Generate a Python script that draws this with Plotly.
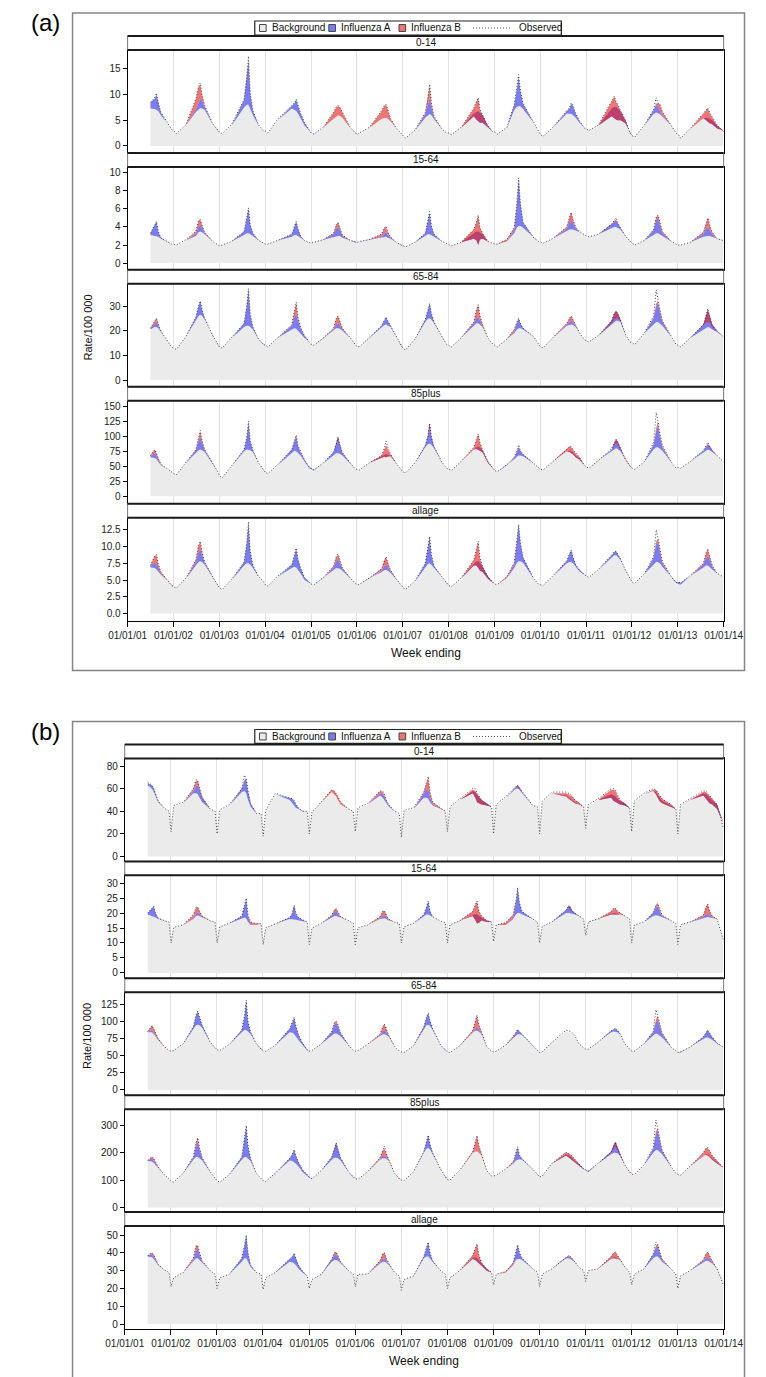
import plotly.graph_objects as go

# ---------------- data ----------------
DATES = [
    "2001-07-02", "2001-08-05", "2001-08-19", "2001-09-02", "2001-09-23", "2001-11-10", "2001-12-18",
    "2002-01-03", "2002-01-24", "2002-04-10", "2002-06-29", "2002-07-20", "2002-08-03", "2002-08-17", "2002-09-07", "2002-11-10", "2002-12-18",
    "2003-01-03", "2003-01-24", "2003-04-10", "2003-07-18", "2003-08-08", "2003-08-22", "2003-09-05", "2003-09-26", "2003-11-10", "2003-12-18",
    "2004-01-03", "2004-01-24", "2004-04-10", "2004-08-01", "2004-08-22", "2004-09-05", "2004-09-19", "2004-10-10", "2004-11-10", "2004-12-18",
    "2005-01-03", "2005-01-24", "2005-04-10", "2005-06-30", "2005-07-21", "2005-08-04", "2005-08-18", "2005-09-08", "2005-11-10", "2005-12-18",
    "2006-01-03", "2006-01-24", "2006-04-10", "2006-07-18", "2006-08-08", "2006-08-22", "2006-09-05", "2006-09-26", "2006-11-10", "2006-12-18",
    "2007-01-03", "2007-01-24", "2007-04-10", "2007-06-30", "2007-07-21", "2007-08-04", "2007-08-18", "2007-09-08", "2007-11-10", "2007-12-18",
    "2008-01-03", "2008-01-24", "2008-04-10", "2008-07-21", "2008-08-11", "2008-08-25", "2008-09-08", "2008-09-29", "2008-11-10", "2008-12-18",
    "2009-01-03", "2009-01-24", "2009-04-10", "2009-06-08", "2009-06-29", "2009-07-13", "2009-07-27", "2009-08-17", "2009-11-10", "2009-12-18",
    "2010-01-03", "2010-01-24", "2010-04-10", "2010-08-01", "2010-08-22", "2010-09-05", "2010-09-19", "2010-10-10", "2010-11-10", "2010-12-18",
    "2011-01-03", "2011-01-24", "2011-04-10", "2011-07-24", "2011-08-14", "2011-08-28", "2011-09-11", "2011-10-02", "2011-11-10", "2011-12-18",
    "2012-01-03", "2012-01-24", "2012-04-10", "2012-06-22", "2012-07-13", "2012-07-27", "2012-08-10", "2012-08-31", "2012-11-10", "2012-12-18",
    "2013-01-03", "2013-01-24", "2013-04-10", "2013-07-24", "2013-08-14", "2013-08-28", "2013-09-11", "2013-10-02", "2013-11-10", "2013-12-30",
]

X_TICKS = ["2001-01-01", "2002-01-01", "2003-01-01", "2004-01-01", "2005-01-01", "2006-01-01", "2007-01-01",
           "2008-01-01", "2009-01-01", "2010-01-01", "2011-01-01", "2012-01-01", "2013-01-01", "2014-01-01"]

AGE_GROUPS = ["0-14", "15-64", "65-84", "85plus", "allage"]
LEGEND_LABELS = ["Background", "Influenza A", "Influenza B", "Observed"]

# ----- panel (a) 0-14 -----
a014_bg = [
    7.3, 7.2, 7.0, 6.8, 6.0, 4.5, 3.3,
    2.9, 2.5, 4.0, 6.6, 7.2, 7.4, 7.3, 7.0, 4.3, 3.0,
    2.6, 2.3, 4.0, 7.5, 8.0, 8.0, 7.2, 6.0, 4.0, 3.0,
    2.8, 2.5, 5.0, 7.3, 7.0, 6.8, 6.3, 5.3, 4.0, 3.0,
    2.5, 2.4, 3.6, 5.3, 5.8, 6.0, 5.9, 5.5, 3.5, 2.6,
    2.3, 2.5, 3.5, 5.3, 5.5, 5.5, 5.3, 4.8, 3.5, 2.4,
    2.0, 1.6, 3.0, 5.5, 6.0, 6.2, 6.0, 5.2, 3.3, 2.5,
    2.5, 2.3, 3.5, 6.3, 6.6, 6.7, 6.5, 6.0, 4.0, 2.8,
    2.6, 2.3, 3.5, 7.0, 7.6, 7.8, 7.7, 7.2, 4.5, 2.8,
    2.2, 2.0, 3.5, 6.3, 6.3, 6.2, 6.0, 5.5, 4.5, 3.5,
    3.3, 3.1, 4.0, 7.3, 7.6, 7.6, 7.3, 6.8, 5.0, 2.5,
    2.0, 1.8, 4.0, 6.2, 6.5, 6.4, 6.2, 5.7, 4.0, 2.5,
    2.3, 1.6, 3.3, 5.4, 5.5, 5.5, 5.3, 5.0, 4.0, 3.0,
]
a014_fa = [
    1.2, 2.0, 3.0, 1.8, 0.5, 0, 0,
    0, 0, 0, 0.5, 1.3, 1.8, 1.6, 0.6, 0, 0,
    0, 0, 0, 1.5, 5.0, 8.8, 3.0, 0.8, 0, 0,
    0, 0, 0, 0.5, 1.3, 2.2, 1.5, 1.0, 0.5, 0,
    0, 0, 0, 0, 0, 0, 0, 0, 0, 0,
    0, 0, 0, 0, 0, 0, 0, 0, 0, 0,
    0, 0, 0, 0.6, 2.0, 3.2, 1.5, 0.3, 0, 0,
    0, 0, 0, -0.5, -1.5, -2.0, -2.0, -1.5, -0.5, 0,
    0, 0, 0, 1.0, 3.5, 5.8, 3.0, 1.0, 0, 0,
    0, 0, 0, 0.5, 1.0, 2.0, 1.8, 0.8, 0.3, 0,
    0, 0, 0, -1.5, -2.2, -2.5, -2.3, -1.8, -0.6, 0,
    0, 0, 0, 0.8, 1.5, 1.2, 0.7, 0.2, 0, 0,
    0, 0, 0, 0, -0.5, -0.8, -0.9, -0.8, -0.6, 0,
]
a014_fb = [
    0, 0, 0, 0, 0, 0, 0,
    0, 0, 0, 2.0, 3.0, 2.7, 1.0, 0.2, 0, 0,
    0, 0, 0, 0, 0, 0, 0, 0, 0, 0,
    0, 0, 0, 0, 0, 0, 0, 0, 0, 0,
    0, 0, 0, 1.2, 1.7, 1.8, 1.7, 1.0, 0, 0,
    0, 0, 0, 1.5, 2.3, 2.5, 1.6, 0.5, 0, 0,
    0, 0, 0, 0.3, 1.2, 2.4, 0.8, 0.2, 0, 0,
    0, 0, 0, 1.5, 3.5, 4.6, 2.5, 1.5, 0.3, 0,
    0, 0, 0, 0, 0, 0, 0, 0, 0, 0,
    0, 0, 0, 0, 0, 0, 0, 0, 0, 0,
    0, 0, 0, 3.0, 4.2, 3.4, 3.0, 1.8, 0.6, 0,
    0, 0, 0, 0, 0.3, 0.6, 1.2, 0.7, 0, 0,
    0, 0, 0, 1.0, 2.0, 2.6, 2.0, 1.3, 0.6, 0,
]
a014_obs = [
    8.5, 9.4, 10.3, 8.4, 6.6, 4.6, 3.2,
    3.0, 2.4, 4.1, 9.2, 11.6, 12.3, 9.9, 7.9, 4.3, 3.1,
    2.7, 2.4, 4.2, 9.1, 13.2, 17.5, 10.3, 6.9, 4.1, 3.0,
    2.9, 2.5, 5.2, 7.9, 8.4, 9.1, 7.9, 6.4, 4.6, 3.1,
    2.5, 2.3, 3.7, 6.6, 7.6, 7.9, 7.5, 6.6, 3.6, 2.6,
    2.2, 2.6, 3.6, 6.9, 7.9, 8.1, 6.9, 5.4, 3.5, 2.4,
    2.0, 1.5, 3.1, 6.5, 9.3, 12.0, 8.4, 5.8, 3.3, 2.5,
    2.5, 2.2, 3.6, 7.4, 8.7, 9.4, 7.1, 6.0, 3.9, 2.8,
    2.7, 2.3, 3.6, 8.1, 11.2, 13.9, 10.8, 8.3, 4.6, 2.8,
    2.2, 1.9, 3.6, 6.9, 7.4, 8.4, 7.9, 6.4, 4.9, 3.5,
    3.3, 3.0, 4.1, 8.9, 9.7, 8.6, 8.1, 6.9, 5.1, 2.5,
    2.0, 1.7, 4.1, 7.1, 9.4, 8.3, 8.2, 6.7, 4.1, 2.5,
    2.3, 1.5, 3.4, 6.5, 7.1, 7.4, 6.5, 5.6, 4.1, 2.8,
]

# ----- panel (a) 15-64 -----
a1564_bg = [
    3.1, 3.0, 3.0, 2.9, 2.7, 2.4, 2.1,
    2.1, 2.0, 2.5, 3.0, 3.4, 3.5, 3.4, 3.2, 2.4, 2.0,
    1.9, 2.0, 2.4, 3.1, 3.3, 3.3, 3.2, 3.0, 2.5, 2.2,
    2.1, 2.1, 2.5, 2.9, 3.1, 3.1, 3.0, 2.8, 2.5, 2.3,
    2.2, 2.3, 2.6, 2.9, 3.0, 3.0, 3.0, 2.8, 2.5, 2.3,
    2.3, 2.4, 2.6, 2.8, 2.9, 2.9, 2.8, 2.7, 2.3, 2.0,
    1.9, 1.8, 2.3, 3.0, 3.2, 3.2, 3.1, 2.9, 2.4, 2.1,
    2.0, 1.9, 2.3, 3.3, 3.5, 3.5, 3.4, 3.2, 2.4, 2.2,
    2.1, 2.1, 2.4, 3.3, 3.9, 4.1, 4.1, 3.9, 2.8, 2.4,
    2.3, 2.2, 2.7, 3.5, 3.7, 3.7, 3.7, 3.6, 3.4, 3.1,
    3.0, 2.9, 3.2, 3.9, 4.0, 4.0, 3.9, 3.7, 3.0, 2.4,
    2.2, 2.0, 2.5, 3.1, 3.3, 3.3, 3.2, 3.0, 2.4, 2.1,
    2.0, 2.0, 2.3, 2.9, 3.0, 3.0, 3.0, 2.9, 2.7, 2.5,
]
a1564_fa = [
    0.2, 1.2, 1.6, 0.6, 0.1, 0, 0,
    0, 0, 0, 0.2, 0.6, 0.8, 0.5, 0.1, 0, 0,
    0, 0, 0, 0.4, 1.6, 2.7, 1.0, 0.3, 0, 0,
    0, 0, 0, 0.3, 1.0, 1.5, 0.8, 0.2, 0, 0,
    0, 0, 0, 0.3, 0.8, 1.0, 0.7, 0.2, 0, 0,
    0, 0, 0, 0.1, 0.4, 0.5, 0.3, 0.1, 0, 0,
    0, 0, 0, 0.3, 1.5, 2.4, 1.0, 0.3, 0, 0,
    0, 0, 0, -0.6, -1.0, -1.5, -0.8, -0.5, 0, 0,
    0, 0, 0, 0.3, 2.5, 5.2, 2.5, 0.6, 0, 0,
    0, 0, 0, 0.3, 0.8, 1.0, 0.7, 0.3, 0, 0,
    0, 0, 0, 0.4, 0.6, 0.7, 0.5, 0.2, 0, 0,
    0, 0, 0, 0.5, 1.5, 1.7, 1.0, 0.3, 0, 0,
    0, 0, 0, 0.3, 0.8, 1.0, 0.7, 0.3, 0, 0,
]
a1564_fb = [
    0, 0, 0, 0, 0, 0, 0,
    0, 0, 0, 0.3, 0.7, 0.5, 0.3, 0.1, 0, 0,
    0, 0, 0, 0, 0, 0, 0, 0, 0, 0,
    0, 0, 0, 0, 0, 0, 0, 0, 0, 0,
    0, 0, 0, 0.1, 0.4, 0.5, 0.3, 0.1, 0, 0,
    0, 0, 0, 0.3, 0.6, 0.6, 0.3, 0.1, 0, 0,
    0, 0, 0, 0, 0, 0, 0, 0, 0, 0,
    0, 0, 0, 1.0, 2.0, 3.3, 1.3, 0.6, 0, 0,
    0, 0, 0.2, 0.3, 0.3, 0.1, 0, 0, 0, 0,
    0, 0, 0, 0.2, 0.6, 0.9, 0.4, 0.1, 0, 0,
    0, 0, 0, 0, 0.1, 0.1, 0, 0, 0, 0,
    0, 0, 0, 0.1, 0.3, 0.3, 0.4, 0.2, 0, 0,
    0, 0, 0, 0.2, 0.7, 1.0, 0.5, 0.2, 0, 0,
]
a1564_obs = [
    3.3, 4.2, 4.6, 3.5, 2.8, 2.4, 2.1,
    2.1, 2.0, 2.6, 3.5, 4.7, 4.8, 4.2, 3.4, 2.4, 2.0,
    1.9, 2.0, 2.4, 3.5, 5.0, 6.1, 4.2, 3.3, 2.5, 2.2,
    2.1, 2.1, 2.5, 3.2, 4.1, 4.6, 3.8, 3.0, 2.5, 2.3,
    2.2, 2.3, 2.6, 3.3, 4.2, 4.5, 4.0, 3.1, 2.5, 2.3,
    2.3, 2.4, 2.6, 3.2, 3.9, 4.1, 3.4, 2.9, 2.3, 2.0,
    1.9, 1.8, 2.3, 3.3, 4.7, 5.7, 4.1, 3.2, 2.4, 2.1,
    2.0, 1.9, 2.3, 3.7, 4.5, 5.3, 3.9, 3.3, 2.4, 2.2,
    2.1, 2.1, 2.6, 3.9, 6.7, 9.4, 6.6, 4.5, 2.8, 2.4,
    2.3, 2.2, 2.7, 4.0, 5.1, 5.6, 4.8, 4.0, 3.5, 3.1,
    3.0, 2.9, 3.2, 4.3, 4.8, 5.0, 4.5, 3.9, 3.0, 2.4,
    2.2, 2.0, 2.5, 3.7, 5.1, 5.3, 4.6, 3.5, 2.4, 2.1,
    2.0, 2.0, 2.3, 3.4, 4.5, 5.0, 4.2, 3.4, 2.7, 2.5,
]

# ----- panel (a) 65-84 -----
a6584_bg = [
    20.6, 21.5, 21.5, 21.0, 19.5, 16.0, 13.5,
    13.0, 12.5, 17.5, 24.5, 26.0, 26.5, 26.0, 24.5, 18.0, 14.5,
    13.5, 13.0, 17.0, 21.5, 22.0, 22.0, 21.5, 20.5, 16.5, 14.5,
    14.0, 13.5, 17.0, 20.5, 21.0, 20.8, 20.0, 18.5, 17.0, 15.5,
    14.5, 14.0, 17.0, 20.0, 21.0, 21.0, 20.8, 20.0, 17.0, 14.5,
    13.5, 13.5, 17.0, 21.5, 22.3, 22.5, 22.2, 21.5, 17.5, 14.0,
    13.0, 12.3, 16.5, 23.5, 24.8, 25.0, 24.5, 23.0, 17.5, 14.5,
    14.0, 13.5, 17.0, 22.0, 23.0, 23.0, 22.5, 21.5, 17.0, 14.5,
    14.0, 13.5, 16.5, 19.0, 20.5, 21.0, 21.0, 20.5, 17.5, 14.5,
    13.5, 13.0, 17.0, 22.0, 22.5, 22.5, 22.3, 21.5, 19.0, 16.5,
    16.0, 15.5, 18.0, 22.5, 23.5, 24.0, 24.0, 23.5, 18.5, 15.5,
    15.0, 14.5, 19.0, 22.5, 23.5, 23.5, 23.0, 22.0, 17.5, 14.5,
    14.0, 13.5, 17.0, 20.5, 21.3, 21.5, 21.3, 20.5, 19.5, 17.5,
]
a6584_fa = [
    0.3, 1.5, 2.0, 1.0, 0.2, 0, 0,
    0, 0, 0, 1.0, 4.0, 5.5, 2.5, 0.5, 0, 0,
    0, 0, 0, 1.5, 8.0, 15.0, 5.0, 1.0, 0, 0,
    0, 0, 0, 1.5, 4.5, 6.0, 4.0, 2.5, 1.0, 0,
    0, 0, 0, 0.5, 1.5, 2.0, 1.5, 0.5, 0, 0,
    0, 0, 0, 0.5, 2.0, 3.0, 1.8, 0.5, 0, 0,
    0, 0, 0, 1.0, 3.5, 6.0, 2.5, 0.5, 0, 0,
    0, 0, 0, 1.0, 2.0, 2.5, 1.5, 0.5, 0, 0,
    0, 0, 0, 0.5, 2.5, 4.0, 2.0, 0.5, 0, 0,
    0, 0, 0, 0.5, 1.0, 1.5, 1.0, 0.5, 0, 0,
    0, 0, 0, 1.5, 3.5, 4.0, 3.0, 1.0, 0, 0,
    0, 0, 0, 2.5, 6.5, 7.5, 4.5, 1.5, 0, 0,
    0, 0, 0, 2.0, 5.0, 7.0, 5.0, 2.0, 0.5, 0,
]
a6584_fb = [
    0.2, 1.0, 1.5, 0.8, 0.2, 0, 0,
    0, 0, 0, 0, 0, 0, 0, 0, 0, 0,
    0, 0, 0, 0, 0, 0, 0, 0, 0, 0,
    0, 0, 0, 0.3, 2.5, 4.5, 1.5, 0.3, 0, 0,
    0, 0, 0, 0.5, 2.5, 3.0, 2.0, 0.5, 0, 0,
    0, 0, 0, 0, 0, 0, 0, 0, 0, 0,
    0, 0, 0, 0, 0, 0, 0, 0, 0, 0,
    0, 0, 0, 0.5, 3.5, 5.0, 2.0, 0.5, 0, 0,
    0, 0, 0, 1.0, 0.5, 0, 0, 0, 0, 0,
    0, 0, 0, 0.5, 1.5, 2.0, 1.2, 0.5, 0, 0,
    0, 0, 0, -1.0, -2.5, -3.0, -2.0, -0.5, 0, 0,
    0, 0, 0, 0.5, 1.0, 1.0, 1.5, 0.5, 0, 0,
    0, 0, 0, -0.5, -3.0, -5.0, -3.0, -1.0, 0, 0,
]
a6584_obs = [
    21.0, 24.0, 25.0, 22.8, 19.9, 16.2, 13.4,
    13.0, 12.4, 17.6, 25.5, 30.0, 32.0, 28.5, 25.0, 18.1, 14.6,
    13.4, 12.9, 17.2, 23.0, 30.0, 37.0, 27.0, 21.5, 16.6, 14.4,
    14.1, 13.4, 17.1, 22.5, 28.0, 31.5, 25.5, 21.5, 18.0, 15.5,
    14.4, 14.1, 17.1, 21.0, 25.0, 26.0, 24.3, 21.0, 17.1, 14.6,
    13.4, 13.6, 17.1, 22.0, 24.3, 25.5, 24.0, 22.0, 17.6, 13.9,
    12.9, 12.2, 16.6, 24.5, 28.3, 31.0, 27.0, 23.5, 17.6, 14.4,
    14.1, 13.4, 17.1, 23.5, 28.5, 30.5, 26.0, 22.5, 17.1, 14.6,
    14.1, 13.4, 16.6, 20.5, 23.5, 25.0, 23.0, 21.0, 17.6, 14.4,
    13.4, 13.1, 17.1, 23.0, 25.0, 26.0, 24.5, 22.5, 19.1, 16.4,
    16.1, 15.4, 18.1, 24.0, 27.0, 28.0, 27.0, 24.5, 18.6, 15.4,
    15.1, 14.4, 19.1, 26.0, 36.5, 32.0, 29.0, 24.0, 17.6, 14.4,
    14.1, 13.4, 17.1, 22.5, 26.0, 29.0, 26.0, 22.0, 20.0, 17.5,
]

# ----- panel (a) 85plus -----
a85_bg = [
    65, 64, 62, 58, 52, 45, 40,
    38, 36, 55, 72, 77, 78, 77, 74, 55, 42,
    34, 31, 50, 75, 78, 78, 77, 74, 55, 45,
    40, 38, 52, 73, 76, 75, 72, 68, 58, 47,
    45, 43, 55, 69, 72, 72, 71, 68, 55, 46,
    45, 44, 56, 66, 69, 70, 69.5, 68, 55, 44,
    41, 39, 55, 82, 87, 88, 86, 80, 57, 47,
    45, 43, 58, 78, 82, 83, 81, 76, 58, 47,
    43, 41, 52, 62, 66, 68, 68, 67, 55, 47,
    45, 44, 58, 75, 76, 75, 73, 68, 63, 52,
    49, 47, 60, 75, 79, 80, 79, 75, 62, 50,
    47, 45, 58, 78, 82, 82, 80, 76, 57, 47,
    48, 47, 58, 74, 77, 78, 77, 74, 68, 58,
]
a85_fa = [
    2, 8, 5, 2, 0.5, 0, 0,
    0, 0, 0, 5, 15, 22, 12, 3, 0, 0,
    0, 0, 0, 3, 20, 45, 15, 3, 0, 0,
    0, 0, 0, 5, 15, 25, 12, 5, 3, 2,
    2, 1, 0, 5, 17, 27, 16, 5, 0, 0,
    0, 0, 0, -1, -3, -5, -3, -1, 0, 0,
    0, 0, 0, 3, 14, 34, 14, 3, 0, 0,
    0, 0, 0, 0, -3, -5, -5, -3, -2, 0,
    0, 0, 0, 2, 8, 14, 8, 3, 0, 0,
    0, 0, 0, 0, -2, -3, -3, -3, -2, 0,
    0, 0, 0, 3, 10, 15, 12, 5, 0, 0,
    0, 0, 0, 8, 28, 36, 20, 6, 0, 0,
    0, 0, 0, 2, 6, 9, 7, 3, 0, 0,
]
a85_fb = [
    1, 6, 5, 3, 1, 0, 0,
    0, 0, 0, 1, 5, 8, 4, 1, 0, 0,
    0, 0, 0, 0, 0, 0, 0, 0, 0, 0,
    0, 0, 0, 0.5, 1, 2, 1, 0.5, 0, 0,
    0, 0, 0, 0, -2, -4, -2, 0, 0, 0,
    0, 0, 0, 3, 12, 20, 12, 3, 0, 0,
    0, 0, 0, 0, -2, -6, -2, 0, 0, 0,
    0, 0, 0, 3, 15, 26, 13, 4, 2, 0,
    0, 0, 0, 1, 1, -2, 0, 0, 0, 0,
    0, 0, 0, 3, 9, 10, 8, 6, 4, 0,
    0, 0, 0, 0, -4, -6, -5, -2, 0, 0,
    0, 0, 0, 1, 4, 7, 5, 2, 0, 0,
    0, 0, 0, 0, -1, -2, -2, -1, 0, 0,
]
a85_obs = [
    68, 78, 72, 63, 54, 46, 40,
    38, 36, 56, 78, 97, 110, 93, 78, 55, 42,
    34, 31, 51, 78, 98, 125, 92, 77, 56, 45,
    40, 38, 53, 78, 92, 102, 85, 74, 61, 49,
    47, 44, 56, 74, 87, 99, 87, 73, 56, 46,
    45, 44, 56, 68, 80, 92, 82, 71, 55, 44,
    41, 39, 56, 85, 100, 122, 98, 83, 57, 47,
    45, 43, 58, 82, 96, 104, 90, 78, 58, 47,
    43, 41, 53, 65, 76, 86, 76, 70, 55, 47,
    45, 44, 58, 78, 84, 83, 78, 72, 65, 52,
    49, 47, 60, 80, 88, 95, 90, 80, 62, 50,
    47, 45, 58, 90, 140, 125, 106, 86, 57, 47,
    48, 47, 58, 77, 84, 90, 84, 76, 68, 58,
]

# ----- panel (a) allage -----
aall_bg = [
    6.9, 6.8, 6.6, 6.3, 5.8, 5.0, 4.2,
    4.0, 3.9, 5.2, 7.2, 7.7, 7.8, 7.7, 7.3, 5.5, 4.3,
    3.8, 3.6, 5.0, 7.2, 7.5, 7.5, 7.3, 6.8, 5.5, 4.8,
    4.3, 4.1, 5.5, 6.8, 7.0, 6.9, 6.6, 6.0, 5.0, 4.5,
    4.4, 4.3, 5.3, 6.5, 6.8, 6.8, 6.7, 6.4, 5.3, 4.5,
    4.3, 4.4, 5.3, 6.2, 6.5, 6.5, 6.4, 6.1, 5.2, 4.3,
    3.9, 3.6, 4.8, 7.0, 7.4, 7.5, 7.3, 6.8, 5.5, 4.5,
    4.2, 4.0, 5.2, 7.4, 7.8, 7.8, 7.6, 7.0, 5.6, 4.6,
    4.4, 4.3, 5.3, 6.8, 7.6, 7.8, 7.8, 7.6, 5.2, 4.4,
    4.3, 4.2, 5.5, 7.5, 7.7, 7.7, 7.5, 7.0, 6.3, 5.8,
    5.6, 5.4, 6.5, 8.4, 8.7, 8.7, 8.5, 8.0, 6.5, 5.2,
    4.7, 4.5, 5.9, 7.3, 7.7, 7.7, 7.5, 7.0, 5.5, 4.6,
    4.4, 4.3, 5.6, 6.9, 7.2, 7.2, 7.0, 6.6, 6.0, 5.5,
]
aall_fa = [
    0.3, 0.8, 0.8, 0.5, 0.2, 0, 0,
    0, 0, 0, 0.5, 1.5, 1.8, 1.0, 0.3, 0, 0,
    0, 0, 0, 0.5, 3.0, 6.0, 2.0, 0.4, 0, 0,
    0, 0, 0, 0.5, 1.8, 2.8, 1.6, 0.8, 0.4, 0.2,
    0, 0, 0, 0.4, 1.0, 1.3, 0.9, 0.3, 0, 0,
    0, 0, 0, 0.2, 0.6, 0.8, 0.5, 0.2, 0, 0,
    0, 0, 0, 0.5, 2.3, 4.0, 1.5, 0.3, 0, 0,
    0, 0, 0, -0.2, -0.6, -1.0, -1.2, -0.8, -0.4, 0,
    0, 0, 0, 0.5, 3.0, 5.5, 2.8, 0.8, 0, 0,
    0, 0, 0, 0.4, 1.2, 1.8, 1.0, 0.3, 0.2, 0,
    0, 0, 0, 0.3, 0.5, 0.6, 0.4, 0.2, 0, 0,
    0, 0, 0, 1.0, 2.7, 3.0, 1.7, 0.5, 0, 0,
    0.3, 0.3, 0, 0.4, 1.1, 1.4, 1.0, 0.4, 0, 0,
]
aall_fb = [
    0, 1.0, 1.4, 0.6, 0.2, 0, 0,
    0, 0, 0, 0.3, 1.0, 1.1, 0.5, 0.1, 0, 0,
    0, 0, 0, 0, 0, 0, 0, 0, 0, 0,
    0, 0, 0, 0, 0, 0, 0, 0, 0, 0,
    0, 0, 0, 0.2, 0.6, 0.7, 0.5, 0.1, 0, 0,
    0, 0, 0, 0.3, 0.9, 1.1, 0.6, 0.2, 0, 0,
    0, 0, 0, 0, 0, 0, 0, 0, 0, 0,
    0, 0, 0, 0.8, 2.3, 3.9, 1.8, 0.8, 0.3, 0,
    0, 0, 0.2, 0.3, 0.2, 0, 0, 0, 0, 0,
    0, 0, 0, 0, 0, 0, 0, 0, 0, 0,
    0, 0, 0, 0, 0, 0, 0, 0, 0, 0,
    0, 0, 0, 0.1, 0.4, 0.5, 0.5, 0.2, 0, 0,
    0, 0, 0, 0.2, 0.7, 1.0, 0.6, 0.2, 0, 0,
]
aall_obs = [
    7.2, 8.6, 8.8, 7.4, 6.2, 5.0, 4.2,
    4.0, 3.8, 5.3, 8.0, 10.2, 10.8, 9.2, 7.7, 5.5, 4.3,
    3.8, 3.6, 5.1, 7.7, 10.5, 13.7, 9.3, 7.2, 5.5, 4.8,
    4.3, 4.1, 5.6, 7.3, 8.8, 9.8, 8.2, 6.8, 5.4, 4.7,
    4.4, 4.3, 5.4, 7.1, 8.5, 8.9, 8.1, 6.8, 5.3, 4.5,
    4.3, 4.4, 5.3, 6.7, 8.0, 8.5, 7.5, 6.5, 5.2, 4.3,
    3.9, 3.6, 4.9, 7.5, 9.7, 11.5, 8.8, 7.1, 5.5, 4.5,
    4.2, 4.0, 5.3, 8.0, 9.6, 10.8, 8.3, 7.0, 5.5, 4.6,
    4.4, 4.3, 5.5, 7.6, 10.8, 13.3, 10.6, 8.4, 5.2, 4.4,
    4.3, 4.2, 5.6, 7.9, 8.9, 9.5, 8.5, 7.3, 6.5, 5.8,
    5.6, 5.4, 6.6, 8.8, 9.3, 9.3, 8.9, 8.2, 6.5, 5.2,
    4.7, 4.5, 6.0, 8.5, 12.5, 11.3, 9.8, 7.8, 5.5, 4.6,
    4.7, 4.6, 5.7, 7.5, 9.1, 9.7, 8.6, 7.2, 6.0, 5.5,
]

# ----- panel (b) 0-14 -----
b014_bg = [
    63, 60, 57, 53, 48, 43, 40,
    24, 44, 47, 56, 56, 55, 52, 48, 42, 40,
    22, 40, 45, 57, 58, 56, 50, 44, 38, 38,
    20, 40, 55, 50, 47, 45, 43, 42, 40, 40,
    22, 38, 48, 57, 55, 53, 50, 46, 42, 40,
    25, 42, 46, 54, 52, 50, 47, 44, 40, 38,
    20, 40, 42, 52, 52, 51, 48, 45, 42, 40,
    25, 43, 50, 58, 57, 55, 53, 50, 47, 44,
    22, 45, 52, 58, 60, 60, 59, 56, 45, 44,
    22, 48, 56, 54, 52, 51, 50, 48, 46, 44,
    28, 45, 50, 55, 54, 53, 51, 49, 47, 43,
    25, 48, 55, 58, 57, 55, 52, 49, 45, 42,
    22, 45, 50, 56, 55, 54, 52, 50, 46, 30,
]
b014_fa = [
    2, 3, 3, 2, 0.5, 0, 0,
    0, 0, 0, 2, 6, 8, 7, 4, 0, 0,
    0, 0, 0, 3, 9, 12, 8, 3, 0, 0,
    0, 0, 0, 2, 4, 4, 3, 1, 0.5, 0,
    0, 0, 0, 0, 0, 0, 0, 0, 0, 0,
    0, 0, 0, 2, 3, 3, 2, 1, 0, 0,
    0, 0, 0, 3, 7, 9, 4, 1, 0, 0,
    0, 0, 0, -2, -5, -7, -6, -4, -2, 0,
    0, 0, 0, 1, 2, 3, 2, 1, 0, 0,
    0, 0, 0, -1, -1, -1, -1, -1, 0, 0,
    0, 0, 0, -3, -5, -5, -4, -3, -2, 0,
    0, 0, 0, 0, -2, -3, -3, -2, -1, 0,
    0, 0, 0, -2, -4, -5, -5, -4, -4, 0,
]
b014_fb = [
    0, 0, 0.5, 1, 0.5, 0, 0,
    0, 0, 0, 2, 5, 4, 2, 1, 0, 0,
    0, 0, 0, 0.5, 1, 1, 0.5, 0, 0, 0,
    0, 0, 0, 0, 0, 0, 0, 0, 0, 0,
    0, 0, 0, 2, 3, 3, 3, 2, 0, 0,
    0, 0, 0, 2, 2, 1.5, 1, 0.5, 0, 0,
    0, 0, 0, 2, 6, 10, 5, 2, 1, 0,
    0, 0, 0, 3, 6, 7, 6, 4, 1.5, 0,
    0, 0, 0, 0, -1, -1.5, -1, 0, 0, 0,
    0, 0, 0, 3, 4, 4, 4, 3, 2, 0,
    0, 0, 0, 7, 10, 10, 7, 4, 2, 0,
    0, 0, 0, 1, 4, 5, 5, 4, 2, 0,
    0, 0, 0, 3, 6, 6, 6, 5, 4, 0,
]
b014_obs = [
    66, 63, 60, 56, 49, 43, 40,
    22, 45, 48, 60, 68, 67, 60, 52, 42, 40,
    20, 41, 46, 60, 72, 69, 58, 47, 38, 38,
    18, 41, 56, 52, 51, 50, 46, 43, 40, 40,
    20, 39, 49, 59, 58, 56, 53, 48, 42, 40,
    22, 43, 47, 58, 58, 55, 50, 46, 40, 38,
    17, 41, 43, 57, 65, 71, 57, 48, 43, 40,
    22, 44, 51, 60, 60, 56, 54, 50, 46, 44,
    20, 46, 53, 60, 62, 63, 61, 57, 45, 44,
    20, 49, 57, 57, 56, 55, 53, 50, 47, 44,
    25, 46, 51, 60, 60, 59, 55, 50, 46, 43,
    22, 49, 56, 60, 59, 57, 54, 51, 46, 42,
    20, 46, 51, 58, 58, 56, 54, 51, 46, 25,
]

# ----- panel (b) 15-64 -----
b1564_bg = [
    19.5, 19.0, 18.8, 18.5, 18.0, 17.5, 17.0,
    12.0, 15.0, 16.0, 18.0, 19.0, 19.2, 19.0, 18.5, 17.5, 17.0,
    12.0, 15.5, 16.5, 18.0, 18.5, 18.2, 17.0, 16.0, 16.0, 16.5,
    11.0, 15.0, 16.5, 18.0, 18.0, 18.0, 17.8, 17.5, 17.3, 17.0,
    11.0, 15.0, 16.5, 18.5, 19.0, 19.0, 18.8, 18.3, 17.5, 16.5,
    11.0, 15.0, 16.0, 18.0, 18.3, 18.3, 18.0, 17.5, 17.0, 16.5,
    12.0, 15.5, 16.5, 19.0, 19.5, 19.5, 19.2, 18.5, 17.3, 16.8,
    11.5, 16.0, 17.5, 19.5, 19.7, 19.5, 19.2, 18.5, 17.5, 17.0,
    12.0, 16.0, 16.0, 18.0, 19.5, 20.0, 20.0, 19.5, 18.0, 17.0,
    11.0, 15.5, 17.0, 20.0, 20.0, 20.0, 19.8, 19.5, 19.0, 18.0,
    14.0, 17.0, 18.0, 19.8, 20.0, 20.0, 19.8, 19.5, 19.0, 18.0,
    12.0, 16.0, 17.0, 19.0, 19.3, 19.2, 19.0, 18.5, 17.5, 16.5,
    11.0, 16.0, 17.0, 18.5, 18.7, 18.7, 18.5, 18.3, 18.0, 12.0,
]
b1564_fa = [
    0.5, 2.5, 3.5, 1.5, 0.3, 0, 0,
    0, 0, 0, 0.3, 0.8, 1.0, 0.8, 0.3, 0, 0,
    0, 0, 0, 1.0, 4.0, 6.5, 2.0, 0.3, 0, 0,
    0, 0, 0, 0.5, 2.0, 4.5, 2.0, 1.0, 0.5, 0,
    0, 0, 0, 0.5, 1.3, 1.5, 1.0, 0.3, 0, 0,
    0, 0, 0, 0.3, 0.8, 1.0, 0.6, 0.2, 0, 0,
    0, 0, 0, 0.5, 2.5, 4.5, 1.5, 0.3, 0, 0,
    0, 0, 0, -0.5, -2.0, -3.0, -2.5, -1.0, -0.5, 0,
    0, 0, 0, 0.5, 4.0, 8.5, 3.5, 1.0, 0, 0,
    0, 0, 0, 1.0, 2.5, 2.0, 1.0, 0.5, 0, 0,
    0, 0, 0, -0.3, -0.5, -0.5, -0.3, 0, 0, 0,
    0, 0, 0, 1.0, 2.8, 3.0, 1.8, 0.5, 0, 0,
    0, 0, 0, 0.3, 0.8, 1.0, 0.8, 0.3, 0, 0,
]
b1564_fb = [
    0, 0, 0, 0, 0, 0, 0,
    0, 0, 0, 1.0, 2.0, 1.8, 0.8, 0.2, 0, 0,
    0, 0, 0, 0, 0, 0, 0.3, 0.6, 0.5, 0,
    0, 0, 0, 0, 0, -0.5, 0, 0, 0, 0,
    0, 0, 0, 0.3, 0.8, 1.0, 0.6, 0.2, 0, 0,
    0, 0, 0, 0.5, 1.5, 1.5, 0.8, 0.2, 0, 0,
    0, 0, 0, 0, 0, 0, 0, 0, 0, 0,
    0, 0, 0, 1.5, 5.0, 7.5, 4.0, 1.5, 0.5, 0,
    0, 0, 0.8, 1.0, 0.5, 0, 0, 0, 0, 0,
    0, 0, 0, 0, -0.3, -0.5, -0.3, 0, 0, 0,
    0, 0, 0, 1.0, 2.0, 2.0, 1.2, 0.5, 0, 0,
    0, 0, 0, 0.2, 0.5, 1.0, 0.7, 0.3, 0, 0,
    0, 0, 0, 0.5, 2.5, 3.5, 1.5, 0.5, 0, 0,
]
b1564_obs = [
    20.0, 21.5, 22.3, 20.0, 18.3, 17.5, 17.0,
    10.0, 15.2, 16.1, 19.5, 22.0, 22.0, 20.5, 19.0, 17.4, 17.0,
    10.0, 15.4, 16.6, 19.0, 22.5, 25.0, 19.5, 17.0, 16.5, 16.4,
    9.5, 15.1, 16.4, 18.5, 20.0, 22.5, 20.0, 18.5, 17.8, 17.0,
    9.5, 15.0, 16.6, 19.3, 21.0, 21.5, 20.4, 18.8, 17.5, 16.5,
    9.5, 15.1, 16.0, 18.8, 20.6, 20.8, 19.4, 17.9, 17.0, 16.5,
    10.0, 15.4, 16.6, 19.5, 22.0, 24.0, 20.7, 18.8, 17.3, 16.8,
    10.0, 16.1, 17.4, 20.5, 22.7, 24.0, 20.7, 19.0, 17.5, 17.0,
    10.5, 16.0, 16.8, 19.5, 24.0, 28.5, 23.5, 20.5, 18.0, 17.0,
    10.0, 15.6, 17.0, 21.0, 22.3, 21.5, 20.5, 20.0, 19.0, 18.0,
    12.5, 17.1, 18.0, 20.5, 21.8, 21.5, 20.7, 20.0, 19.0, 18.0,
    10.0, 16.0, 17.1, 20.2, 22.8, 23.3, 21.5, 19.3, 17.5, 16.5,
    9.5, 16.1, 17.0, 19.3, 22.0, 23.0, 20.8, 19.0, 18.0, 11.0,
]

# ----- panel (b) 65-84 -----
b6584_bg = [
    85, 85, 82, 78, 73, 64, 58,
    57, 58, 68, 90, 95, 96, 95, 91, 70, 62,
    59, 58, 67, 85, 88, 88, 86, 82, 68, 60,
    58, 57, 66, 85, 84, 82, 79, 73, 66, 58,
    57, 58, 68, 80, 83, 83, 82, 79, 66, 58,
    57, 58, 67, 79, 82, 82, 81, 78, 64, 57,
    56, 55, 65, 90, 95, 96, 94, 88, 66, 58,
    56, 55, 65, 84, 87, 87, 86, 82, 64, 57,
    56, 57, 66, 76, 80, 82, 82, 81, 65, 57,
    55, 56, 70, 86, 86, 85, 83, 80, 68, 62,
    60, 60, 70, 85, 86, 86, 85, 82, 68, 60,
    57, 57, 68, 80, 83, 82, 80, 77, 63, 57,
    55, 55, 63, 75, 77, 77, 76, 74, 68, 63,
]
b6584_fa = [
    0.5, 3, 2, 1.5, 0.5, 0, 0,
    0, 0, 0, 3, 15, 20, 12, 4, 0, 0,
    0, 0, 0, 3, 20, 44, 15, 3, 0, 0,
    0, 0, 0, 5, 15, 24, 15, 8, 3, 1,
    0, 0, 0, 5, 13, 15, 12, 4, 0, 0,
    0, 0, 0, 1, 4, 6, 4, 1, 0, 0,
    0, 0, 0, 3, 12, 17, 8, 2, 0, 0,
    0, 0, 0, 1, 3, 5, 3, 1, 0, 0,
    0, 0, 0, 1, 4, 7, 4, 1, 0, 0,
    0, 0, 0, 0, 0, 0, 0, 0, 0, 0,
    0, 0, 0, 2, 3, 4, 3, 1, 0, 0,
    0, 0, 0, 5, 17, 21, 14, 5, 0, 0,
    0, 1, 0, 3, 8, 11, 8, 4, 1, 0,
]
b6584_fb = [
    0.5, 7, 6, 4, 2, 0, 0,
    0, 0, 0, 0, 0, 0, 0, 0, 0, 0,
    0, 0, 0, 0, 0, 0, 0, 0, 0, 0,
    0, 0, 0, 0, 0, 0.5, 0, 0, 0, 0,
    0, 0, 0, 1, 3, 3, 2, 1, 0, 0,
    0, 0, 0, 2, 7, 9, 5, 1, 0, 0,
    0, 0, 0, 0, 0, 0, 0, 0, 0, 0,
    0, 0, 0, 2, 12, 18, 7, 2, 0, 0,
    0, 0, 0, 2, 1, 0, 0, 0, 0, 0,
    0, 0, 0, 0, 0, 0, 0, 0, 0, 0,
    0, 0, 0, 0, 0.5, 0.5, 0.3, 0, 0, 0,
    0, 0, 0, 1, 3, 6, 5, 2, 0, 0,
    0, 0, 0, 0, 0, 0, 0, 0, 0, 0,
]
b6584_obs = [
    86, 95, 90, 83.5, 75.5, 64, 58,
    57, 58, 68, 93, 110, 116, 107, 95, 70, 62,
    59, 58, 67, 88, 108, 132, 101, 85, 68, 60,
    58, 57, 66, 90, 99, 107, 94, 81, 69, 59,
    57, 58, 68, 86, 99, 101, 96, 84, 66, 58,
    57, 58, 67, 82, 93, 97, 90, 80, 64, 57,
    56, 55, 65, 93, 107, 113, 102, 90, 66, 58,
    56, 55, 65, 87, 102, 110, 96, 85, 64, 57,
    56, 57, 66, 79, 85, 89, 86, 82, 65, 57,
    55, 56, 70, 88, 87, 86, 84, 80, 68, 62,
    60, 60, 70, 87, 90, 91, 88, 83, 68, 60,
    57, 57, 68, 86, 118, 109, 99, 84, 63, 57,
    55, 56, 63, 78, 85, 88, 84, 78, 69, 63,
]

# ----- panel (b) 85plus -----
b85_bg = [
    170, 168, 163, 155, 145, 120, 105,
    95, 93, 125, 175, 185, 185, 180, 172, 130, 105,
    98, 92, 120, 175, 185, 185, 180, 170, 125, 105,
    98, 95, 125, 172, 170, 166, 160, 150, 130, 115,
    108, 105, 135, 175, 182, 182, 180, 172, 130, 110,
    105, 103, 130, 175, 180, 180, 178, 170, 125, 105,
    100, 98, 130, 200, 215, 218, 212, 195, 140, 110,
    102, 100, 135, 198, 205, 205, 200, 190, 135, 115,
    115, 118, 140, 160, 172, 175, 176, 175, 140, 120,
    112, 115, 160, 195, 190, 187, 180, 170, 160, 140,
    135, 130, 160, 195, 200, 200, 198, 190, 155, 130,
    122, 120, 155, 200, 210, 210, 205, 195, 150, 125,
    120, 118, 150, 190, 195, 195, 190, 180, 165, 145,
]
b85_fa = [
    2, 10, 8, 4, 1, 0, 0,
    0, 0, 0, 8, 40, 55, 30, 8, 0, 0,
    0, 0, 0, 10, 60, 115, 45, 8, 0, 0,
    0, 0, 0, 8, 25, 45, 28, 15, 8, 5,
    3, 0, 0, 10, 35, 55, 35, 10, 0, 0,
    0, 0, 0, 2, 8, 10, 7, 2, 0, 0,
    0, 0, 0, 5, 25, 45, 20, 5, 0, 0,
    0, 0, 0, 0, 2, 3, 2, 0, 0, 0,
    0, 0, 0, 3, 25, 45, 15, 3, 0, 0,
    0, 0, 0, -5, -8, -8, -8, -6, -5, 0,
    3, 3, 0, 10, 30, 40, 25, 8, 0, 0,
    0, 0, 0, 15, 60, 70, 45, 12, 0, 0,
    0, 0, 0, 0, -3, -5, -5, -5, -4, 0,
]
b85_fb = [
    0, 8, 8, 5, 2, 0, 0,
    0, 0, 0, 3, 10, 15, 8, 2, 0, 0,
    0, 0, 0, 0, 0, 0, 0, 0, 0, 0,
    0, 0, 0, 0, 0, 0, 0, 0, 0, 0,
    0, 0, 0, 0, -3, -6, -3, 0, 0, 0,
    0, 0, 0, 5, 20, 25, 12, 3, 0, 0,
    0, 0, 0, 0, -2, -4, -2, 0, 0, 0,
    0, 0, 0, 5, 35, 55, 25, 5, 0, 0,
    0, 0, 0, 5, 3, 0, 0, 0, 0, 0,
    0, 0, 0, 12, 15, 15, 15, 12, 8, 0,
    0, 0, 0, -3, -12, -15, -10, -3, 0, 0,
    0, 0, 0, 2, 8, 10, 8, 3, 0, 0,
    0, 0, 0, 10, 25, 28, 22, 15, 10, 0,
]
b85_obs = [
    172, 186, 179, 164, 148, 120, 105,
    95, 93, 126, 186, 235, 255, 218, 182, 130, 105,
    98, 92, 121, 185, 245, 300, 225, 178, 125, 105,
    98, 95, 126, 180, 195, 212, 188, 165, 138, 120,
    111, 105, 136, 185, 214, 236, 212, 182, 130, 110,
    105, 103, 131, 182, 208, 225, 197, 175, 125, 105,
    100, 98, 131, 205, 238, 265, 230, 200, 140, 110,
    102, 100, 136, 203, 242, 263, 227, 195, 135, 115,
    115, 118, 141, 168, 200, 222, 192, 178, 140, 120,
    112, 115, 161, 202, 197, 194, 187, 176, 163, 140,
    138, 133, 161, 202, 220, 240, 215, 195, 155, 130,
    122, 120, 156, 220, 320, 290, 260, 210, 150, 125,
    120, 118, 151, 200, 217, 220, 208, 190, 171, 145,
]

# ----- panel (b) allage -----
ball_bg = [
    38, 37.5, 36.5, 35, 33, 30.5, 29,
    23, 26, 29, 35, 37, 37, 36, 34, 30, 28,
    21, 26, 28, 35, 37, 37, 35, 32, 29, 28,
    21, 26, 29, 35, 34.5, 34, 33, 31, 29, 27,
    21, 25, 28, 35, 36, 36, 35.5, 34, 30, 28,
    23, 28, 28, 34, 35, 35, 34.5, 33, 29, 27,
    21, 25, 27, 37, 38, 38, 37, 35, 30, 28,
    21, 26, 30, 37, 37.5, 37, 36, 34, 31, 29,
    23, 28, 29, 33, 36, 36.5, 36.5, 36, 31, 29,
    22, 28, 31, 37, 37, 36.5, 36, 35, 32, 30,
    25, 30, 31, 37, 37.5, 37.5, 37, 36, 32, 29,
    24, 28, 31, 37, 38, 38, 37, 35, 31, 28,
    22, 27, 30, 35, 35.5, 35.5, 35, 34, 31, 25,
]
ball_fa = [
    0.5, 1.5, 1.5, 1, 0.3, 0, 0,
    0, 0, 0, 1, 4, 5, 3, 1, 0, 0,
    0, 0, 0, 2, 7, 13, 5, 1, 0, 0,
    0, 0, 0, 1.5, 3.5, 5.5, 3.5, 2, 0.8, 0,
    0, 0, 0, 1, 2.5, 3, 2, 0.5, 0, 0,
    0, 0, 0, 0.5, 1.5, 2, 1, 0.3, 0, 0,
    0, 0, 0, 1, 5, 8, 3, 0.5, 0, 0,
    0, 0, 0, -0.5, -1.5, -2, -2, -1.5, -1, 0,
    0, 0, 0, 0.5, 4, 8, 3.5, 1, 0, 0,
    0, 0, 0, 0.5, 1, 1, 0.5, 0.3, 0, 0,
    0, 0, 0, -0.3, -0.5, -0.5, -0.3, 0, 0, 0,
    0, 0, 0, 2, 5, 5.5, 3, 1, 0, 0,
    0, 0, 0, 0.5, 1.5, 2, 1.5, 0.5, 0, 0,
]
ball_fb = [
    0, 1, 1, 0.5, 0.2, 0, 0,
    0, 0, 0, 1, 3, 2, 1, 0.3, 0, 0,
    0, 0, 0, 0, 0, 0, 0, 0, 0, 0,
    0, 0, 0, 0, 0, 0, 0, 0, 0, 0,
    0, 0, 0, 0.5, 1.5, 1.5, 1, 0.3, 0, 0,
    0, 0, 0, 1, 3, 3, 1.5, 0.5, 0, 0,
    0, 0, 0, 0, 0, 0, 0, 0, 0, 0,
    0, 0, 0, 2, 6.5, 10, 5, 2, 1, 0,
    0, 0, 0.5, 1, 0.5, 0, 0, 0, 0, 0,
    0, 0, 0, 0, 0.5, 0.3, 0.2, 0, 0, 0,
    0, 0, 0, 1.3, 3, 3.5, 2, 0.5, 0, 0,
    0, 0, 0, 0.3, 1, 1.5, 1, 0.5, 0, 0,
    0, 0, 0, 0.5, 2.5, 3, 2, 1, 0, 0,
]
ball_obs = [
    38.5, 40, 39, 36.5, 33.5, 30.5, 29,
    21, 26, 29, 37, 44, 44, 40, 35.5, 30, 28,
    20, 26, 28, 37, 44, 50, 40, 33, 29, 28,
    19.5, 26, 29, 36.5, 38, 40, 36.5, 33, 29.8, 27,
    20, 25, 28, 36.5, 40, 40.5, 38.5, 35, 30, 28,
    21, 28, 28, 35.5, 39.5, 40, 37, 34, 29, 27,
    19, 25, 27, 38, 43, 46, 40, 35.5, 30, 28,
    20, 26, 30, 38.5, 42.5, 45, 39, 34.5, 31, 29,
    22, 28, 29.5, 34.5, 40.5, 44.5, 40, 37, 31, 29,
    21, 28, 31, 37.5, 38.5, 38, 36.7, 35.3, 32, 30,
    24, 30, 31, 38, 40, 40.5, 38.7, 36.5, 32, 29,
    22, 28, 31, 39.5, 46, 45, 41, 36.5, 31, 28,
    20, 27, 30, 36, 39.5, 40.5, 38.5, 35.5, 31, 22,
]

# ---------------- styling / layout ----------------
W, H = 766, 1377
FONT = "Liberation Sans, Arial, sans-serif"
GRAY_FILL = "#ebebeb"
BLUE_FILL = "rgba(100,100,240,0.85)"
RED_FILL = "rgba(230,30,30,0.62)"
OBS_COLOR = "rgba(40,40,40,0.85)"
OBS_DASH = "1px,2px"

PANEL_TOP = [0, 709]
PLOT_LEFT = [106, 103]
PLOT_RIGHT = 734

FACETS = [
    (0, AGE_GROUPS[0], a014_bg, a014_fa, a014_fb, a014_obs, [-1.36, 18.7], [0, 5, 10, 15], ""),
    (0, AGE_GROUPS[1], a1564_bg, a1564_fa, a1564_fb, a1564_obs, [-0.74, 10.63], [0, 2, 4, 6, 8, 10], ""),
    (0, AGE_GROUPS[2], a6584_bg, a6584_fa, a6584_fb, a6584_obs, [-2.7, 39.0], [0, 10, 20, 30], ""),
    (0, AGE_GROUPS[3], a85_bg, a85_fa, a85_fb, a85_obs, [-12.2, 159.5], [0, 25, 50, 75, 100, 125, 150], ""),
    (0, AGE_GROUPS[4], aall_bg, aall_fa, aall_fb, aall_obs, [-1.05, 14.34], [0, 2.5, 5, 7.5, 10, 12.5], ".1f"),
    (1, AGE_GROUPS[0], b014_bg, b014_fa, b014_fb, b014_obs, [-4.4, 86.8], [0, 20, 40, 60, 80], ""),
    (1, AGE_GROUPS[1], b1564_bg, b1564_fa, b1564_fb, b1564_obs, [-1.8, 32.6], [0, 5, 10, 15, 20, 25, 30], ""),
    (1, AGE_GROUPS[2], b6584_bg, b6584_fa, b6584_fb, b6584_obs, [-7.8, 143.7], [0, 25, 50, 75, 100, 125], ""),
    (1, AGE_GROUPS[3], b85_bg, b85_fa, b85_fb, b85_obs, [-17.2, 359.7], [0, 100, 200, 300], ""),
    (1, AGE_GROUPS[4], ball_bg, ball_fa, ball_fb, ball_obs, [-2.8, 55.0], [0, 10, 20, 30, 40, 50], ""),
]


def fx(p):
    return p / W


def fy(p):
    return 1 - p / H


fig = go.Figure()
layout = {}
shapes = []
annotations = []

for i, (p, label, bg, fa, fb, obs, yr, yt, yfmt) in enumerate(FACETS):
    for arr in (bg, fa, fb, obs):
        assert len(arr) == len(DATES), (label, p, len(arr))
    k = i % 5
    n = i + 1
    xref = "x" if n == 1 else f"x{n}"
    yref = "y" if n == 1 else f"y{n}"
    top = PANEL_TOP[p]
    strip_top = top + 28 + 117 * k
    strip_bot = strip_top + 14
    plot_bot = strip_top + 117
    x0, x1 = PLOT_LEFT[p], PLOT_RIGHT

    level_a = [b + a for b, a in zip(bg, fa)]
    level_b = [la + b for la, b in zip(level_a, fb)]

    common = dict(x=DATES, xaxis=xref, yaxis=yref, showlegend=False, hoverinfo="skip")
    fig.add_trace(go.Scatter(y=bg, mode="lines", line=dict(width=0), fill="tozeroy",
                             fillcolor=GRAY_FILL, **common))
    fig.add_trace(go.Scatter(y=bg, mode="lines", line=dict(width=0), **common))
    fig.add_trace(go.Scatter(y=level_a, mode="lines", line=dict(width=0), fill="tonexty",
                             fillcolor=BLUE_FILL, **common))
    fig.add_trace(go.Scatter(y=level_a, mode="lines", line=dict(width=0), **common))
    fig.add_trace(go.Scatter(y=level_b, mode="lines", line=dict(width=0), fill="tonexty",
                             fillcolor=RED_FILL, **common))
    fig.add_trace(go.Scatter(y=obs, mode="lines", line=dict(color=OBS_COLOR, width=1, dash=OBS_DASH),
                             **common))

    bottom = (k == 4)
    layout["xaxis" if n == 1 else f"xaxis{n}"] = dict(
        domain=[fx(x0), fx(x1)], anchor=yref, type="date",
        range=[X_TICKS[0], X_TICKS[-1]], tickvals=X_TICKS, tickformat="%d/%m/%y",
        showgrid=True, gridcolor="#e2e2e2", gridwidth=1, zeroline=False,
        showline=True, linecolor="black", linewidth=1, mirror=True,
        ticks="outside" if bottom else "", ticklen=5, tickcolor="black",
        showticklabels=bottom, tickfont=dict(family=FONT, size=10, color="#222"),
    )
    layout["yaxis" if n == 1 else f"yaxis{n}"] = dict(
        domain=[fy(plot_bot), fy(strip_bot)], anchor=xref, range=yr,
        tickvals=yt, tickformat=yfmt, ticks="outside", ticklen=4, tickcolor="black",
        showline=True, linecolor="black", linewidth=1, mirror=True,
        showgrid=False, zeroline=False, tickfont=dict(family=FONT, size=10, color="#222"),
    )

    # facet strip
    shapes.append(dict(type="rect", xref="paper", yref="paper", x0=fx(x0), x1=fx(x1),
                       y0=fy(strip_bot), y1=fy(strip_top), fillcolor="white",
                       line=dict(color="#777", width=1), layer="above"))
    for yy in (strip_top, strip_bot):
        shapes.append(dict(type="line", xref="paper", yref="paper", x0=fx(x0), x1=fx(x1),
                           y0=fy(yy), y1=fy(yy), line=dict(color="#1a1a1a", width=2),
                           layer="above"))
    annotations.append(dict(text=label, xref="paper", yref="paper", x=fx((x0 + x1) / 2),
                            y=fy((strip_top + strip_bot) / 2), showarrow=False,
                            xanchor="center", yanchor="middle",
                            font=dict(family=FONT, size=10, color="#111")))

# panel decorations
for p, tag in enumerate(["(a)", "(b)"]):
    top = PANEL_TOP[p]
    x0 = PLOT_LEFT[p]
    # outer frame
    shapes.append(dict(type="rect", xref="paper", yref="paper", x0=fx(48), x1=fx(756),
                       y0=fy(top + 663), y1=fy(top + 5), line=dict(color="#858585", width=1.5),
                       fillcolor="rgba(0,0,0,0)", layer="below"))
    annotations.append(dict(text=tag, xref="paper", yref="paper", x=fx(2), y=fy(top + 15),
                            showarrow=False, xanchor="left", yanchor="middle",
                            font=dict(family=FONT, size=24, color="black")))
    annotations.append(dict(text="Rate/100 000", xref="paper", yref="paper", x=fx(64),
                            y=fy(top + 320), showarrow=False, textangle=-90,
                            xanchor="center", yanchor="middle",
                            font=dict(family=FONT, size=11, color="#111")))
    annotations.append(dict(text="Week ending", xref="paper", yref="paper",
                            x=fx((x0 + PLOT_RIGHT) / 2), y=fy(top + 645), showarrow=False,
                            xanchor="center", yanchor="middle",
                            font=dict(family=FONT, size=12, color="#111")))
    # legend
    ly = top + 20
    shapes.append(dict(type="rect", xref="paper", yref="paper", x0=fx(240), x1=fx(563),
                       y0=fy(top + 27), y1=fy(top + 13), line=dict(color="#222", width=1.2),
                       fillcolor="white"))
    swatches = [(245, GRAY_FILL), (318, "rgb(123,123,242)"), (392, "rgb(239,115,115)")]
    text_x = [256, 329, 403]
    for (sx, col), tx, txt in zip(swatches, text_x, LEGEND_LABELS[:3]):
        shapes.append(dict(type="rect", xref="paper", yref="paper", x0=fx(sx), x1=fx(sx + 7),
                           y0=fy(ly + 3.5), y1=fy(ly - 3.5), fillcolor=col,
                           line=dict(color="#444", width=1)))
        annotations.append(dict(text=txt, xref="paper", yref="paper", x=fx(tx), y=fy(ly),
                                showarrow=False, xanchor="left", yanchor="middle",
                                font=dict(family=FONT, size=10, color="#111")))
    shapes.append(dict(type="line", xref="paper", yref="paper", x0=fx(470), x1=fx(510),
                       y0=fy(ly), y1=fy(ly), line=dict(color=OBS_COLOR, width=1, dash=OBS_DASH)))
    annotations.append(dict(text=LEGEND_LABELS[3], xref="paper", yref="paper", x=fx(516),
                            y=fy(ly), showarrow=False, xanchor="left", yanchor="middle",
                            font=dict(family=FONT, size=10, color="#111")))

fig.update_layout(
    width=W, height=H, margin=dict(l=0, r=0, t=0, b=0),
    paper_bgcolor="white", plot_bgcolor="white", showlegend=False,
    font=dict(family=FONT, size=10, color="#222"),
    shapes=shapes, annotations=annotations, **layout,
)

fig.write_html("out.html")
